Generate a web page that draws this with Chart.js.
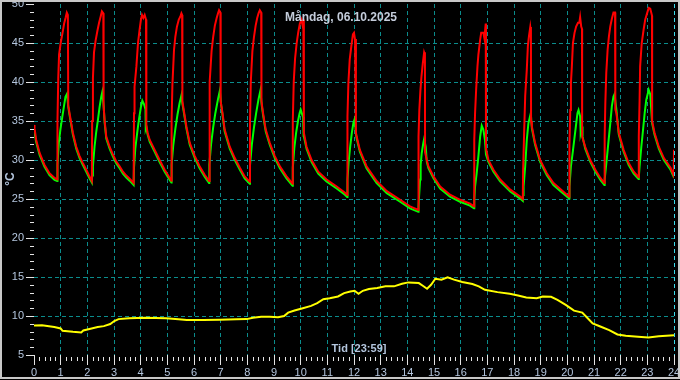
<!DOCTYPE html>
<html>
<head>
<meta charset="utf-8">
<script src="https://cdn.jsdelivr.net/npm/chart.js@4.4.1/dist/chart.umd.min.js"></script>
<style>
html,body{margin:0;padding:0;background:#000;}
canvas{display:block;}
</style>
</head>
<body>
<canvas id="c" width="680" height="380"></canvas>
<script>
// ---------- texts ----------
const titleText = "Måndag, 06.10.2025";
const xAxisText = "Tid [23:59]";
const yAxisText = "°C";

// ---------- axes ----------
const hourMin = 0, hourMax = 24;
const tempMin = 5, tempMax = 50;

// ---------- red series (hours / °C) ----------
const redHours = [
  0, 0.02, 0.08, 0.21, 0.39, 0.58, 0.77, 0.87,
  0.88, 0.91, 0.94, 1.0, 1.07, 1.13, 1.19, 1.23, 1.27, 1.285,
  1.333, 1.457, 1.585, 1.709, 1.833, 1.96, 2.08, 2.17,
  2.18, 2.21, 2.25, 2.31, 2.38, 2.44, 2.50, 2.546, 2.60, 2.61,
  2.65, 2.71, 2.835, 2.96, 3.086, 3.21, 3.335, 3.46, 3.586, 3.736,
  3.75, 3.77, 3.84, 3.90, 3.96, 4.01, 4.05, 4.10, 4.15, 4.20, 4.213,
  4.26, 4.337, 4.525, 4.71, 4.9, 5.09, 5.152,
  5.16, 5.19, 5.25, 5.30, 5.36, 5.43, 5.49, 5.528, 5.555, 5.565,
  5.614, 5.715, 5.84, 6.03, 6.21, 6.40, 6.564,
  6.575, 6.60, 6.66, 6.72, 6.78, 6.85, 6.90, 6.94, 6.99, 7.0,
  7.07, 7.15, 7.34, 7.53, 7.72, 7.90, 8.092,
  8.10, 8.13, 8.19, 8.25, 8.31, 8.37, 8.42, 8.468, 8.52, 8.53,
  8.59, 8.69, 8.84, 9.03, 9.22, 9.47, 9.696,
  9.705, 9.74, 9.79, 9.85, 9.91, 9.97, 10.03, 10.07, 10.10, 10.12,
  10.22, 10.41, 10.66, 10.97, 11.35, 11.66, 11.746,
  11.755, 11.79, 11.84, 11.90, 11.96, 12.0, 12.04, 12.07, 12.075,
  12.10, 12.22, 12.47, 12.85, 13.23, 13.73, 14.10, 14.41,
  14.42, 14.45, 14.49, 14.53, 14.58, 14.63, 14.66, 14.665,
  14.73, 14.79, 14.98, 15.23, 15.60, 15.98, 16.35, 16.50,
  16.51, 16.54, 16.58, 16.63, 16.665, 16.73, 16.77, 16.85, 16.89, 16.94, 16.95,
  17.04, 17.23, 17.48, 17.86, 18.23, 18.33,
  18.34, 18.38, 18.42, 18.48, 18.52, 18.56, 18.61, 18.635, 18.64,
  18.67, 18.79, 18.98, 19.23, 19.48, 19.80, 20.07,
  20.08, 20.11, 20.135, 20.17, 20.21, 20.27, 20.33, 20.40, 20.45, 20.48, 20.52, 20.55, 20.555,
  20.67, 20.86, 21.05, 21.24, 21.39,
  21.40, 21.425, 21.46, 21.51, 21.56, 21.61, 21.67, 21.73, 21.79, 21.80,
  21.84, 21.93, 22.11, 22.30, 22.49, 22.67,
  22.68, 22.71, 22.73, 22.79, 22.86, 22.92, 22.99, 23.05, 23.11, 23.175, 23.18,
  23.27, 23.43, 23.62, 23.87, 23.99, 24.0
];
const redTemps = [
  34.5, 34.1, 32.6, 30.9, 29.4, 28.3, 27.7, 27.5,
  35.0, 40.5, 43.5, 45.0, 46.3, 47.5, 48.3, 48.9, 48.6, 37.0,
  36.0, 33.5, 31.7, 30.5, 29.6, 28.75, 27.9, 27.3,
  35.0, 40.5, 43.8, 45.3, 46.6, 47.6, 48.4, 49.05, 48.8, 37.0,
  35.0, 33.0, 31.7, 30.7, 29.8, 29.2, 28.5, 28.0, 27.6, 27.05,
  36.0, 39.4, 42.0, 45.0, 46.7, 48.0, 48.6, 48.2, 48.6, 48.0, 34.5,
  33.5, 32.6, 31.3, 30.0, 28.75, 27.7, 27.35,
  35.0, 39.6, 44.1, 45.8, 47.1, 48.0, 48.4, 48.8, 48.6, 37.5,
  36.45, 34.3, 32.2, 30.5, 29.2, 28.1, 27.3,
  35.0, 40.0, 44.0, 45.8, 47.2, 48.2, 48.8, 49.2, 48.9, 37.5,
  36.0, 33.9, 31.7, 30.25, 29.0, 27.9, 27.2,
  35.0, 40.0, 44.0, 45.8, 47.2, 48.2, 48.8, 49.2, 48.9, 37.5,
  36.0, 33.9, 32.2, 30.5, 29.2, 27.9, 26.96,
  35.0, 40.0, 43.0, 45.0, 46.4, 47.5, 48.0, 47.3, 48.0, 33.5,
  31.7, 30.0, 28.5, 27.5, 26.6, 25.8, 25.5,
  35.6, 39.9, 42.9, 44.6, 46.1, 46.3, 45.4, 45.5, 33.5,
  33.0, 31.3, 29.2, 27.3, 26.0, 24.9, 24.05, 23.6,
  33.0, 36.4, 38.9, 40.7, 42.4, 43.8, 43.5, 31.0,
  30.0, 29.2, 27.9, 26.6, 25.55, 24.9, 24.4, 24.05,
  32.6, 36.0, 39.0, 42.0, 43.5, 45.4, 46.3, 46.3, 45.6, 47.5, 31.5,
  30.0, 28.75, 27.5, 26.2, 25.3, 25.0,
  28.4, 33.5, 38.2, 41.6, 44.6, 45.85, 47.05, 46.3, 35.0,
  34.3, 32.2, 30.0, 28.3, 27.05, 26.1, 25.3,
  32.0, 36.4, 39.9, 42.0, 45.0, 46.3, 47.1, 47.6, 47.6, 48.3, 47.1, 46.8, 33.0,
  31.7, 30.0, 28.75, 27.7, 27.05,
  33.0, 37.3, 41.15, 44.1, 45.85, 47.1, 48.1, 48.9, 48.9, 36.5,
  36.0, 33.5, 31.3, 29.6, 28.5, 27.8,
  33.0, 37.7, 42.0, 45.0, 46.7, 48.0, 48.8, 49.5, 49.4, 48.5, 35.0,
  33.5, 31.7, 30.25, 29.0, 28.0, 31.3
];

// ---------- green series ----------
const greenHours = [
  0, 0.08, 0.21, 0.39, 0.58, 0.77, 0.87,
  0.88, 0.93, 0.99, 1.06, 1.12, 1.18, 1.24, 1.285,
  1.333, 1.457, 1.585, 1.709, 1.833, 1.96, 2.08, 2.17,
  2.18, 2.21, 2.27, 2.33, 2.40, 2.46, 2.52, 2.56, 2.61,
  2.65, 2.71, 2.835, 2.96, 3.086, 3.21, 3.335, 3.46, 3.586, 3.736,
  3.75, 3.80, 3.87, 3.94, 4.01, 4.063, 4.12, 4.18, 4.19, 4.213,
  4.26, 4.337, 4.525, 4.71, 4.9, 5.09, 5.152,
  5.16, 5.22, 5.30, 5.38, 5.46, 5.53, 5.565,
  5.614, 5.715, 5.84, 6.03, 6.21, 6.40, 6.564,
  6.575, 6.64, 6.72, 6.80, 6.90, 6.97, 7.02,
  7.07, 7.15, 7.34, 7.53, 7.72, 7.90, 8.092,
  8.10, 8.17, 8.25, 8.33, 8.42, 8.49, 8.54,
  8.59, 8.69, 8.84, 9.03, 9.22, 9.47, 9.696,
  9.705, 9.76, 9.83, 9.90, 9.96, 10.0, 10.09, 10.10, 10.12,
  10.22, 10.41, 10.66, 10.97, 11.35, 11.66, 11.746,
  11.755, 11.80, 11.86, 11.92, 11.98, 12.03, 12.075,
  12.10, 12.22, 12.47, 12.85, 13.23, 13.73, 14.10, 14.41,
  14.42, 14.44, 14.48, 14.50, 14.54, 14.60, 14.63, 14.69,
  14.73, 14.79, 14.98, 15.23, 15.60, 15.98, 16.35, 16.50,
  16.51, 16.54, 16.60, 16.665, 16.73, 16.79, 16.85, 16.91, 16.95,
  17.04, 17.23, 17.48, 17.86, 18.23, 18.33,
  18.34, 18.36, 18.42, 18.48, 18.54, 18.63, 18.67,
  18.79, 18.98, 19.23, 19.48, 19.80, 20.07,
  20.08, 20.135, 20.20, 20.26, 20.32, 20.38, 20.42, 20.48, 20.50, 20.55, 20.57,
  20.67, 20.86, 21.05, 21.24, 21.39,
  21.40, 21.425, 21.49, 21.55, 21.61, 21.67, 21.73, 21.77, 21.84,
  21.93, 22.11, 22.30, 22.49, 22.67,
  22.68, 22.71, 22.775, 22.84, 22.90, 22.96, 23.05, 23.11, 23.18,
  23.27, 23.43, 23.62, 23.87, 24.0
];
const greenTemps = [
  33.9, 32.35, 30.65, 29.15, 28.05, 27.45, 27.3,
  29.4, 32.2, 33.9, 35.5, 36.8, 38.1, 38.5, 36.8,
  35.75, 33.25, 31.45, 30.25, 29.35, 28.5, 27.65, 27.1,
  28.0, 29.2, 31.7, 33.5, 35.2, 36.8, 38.1, 38.7, 37.0,
  34.75, 32.75, 31.45, 30.45, 29.55, 28.95, 28.25, 27.75, 27.35, 26.8,
  29.0, 31.5, 33.5, 35.3, 36.8, 37.6, 37.2, 36.5, 34.0, 34.25,
  33.25, 32.35, 31.05, 29.75, 28.5, 27.45, 27.1,
  29.4, 31.8, 34.0, 35.8, 37.3, 38.3, 37.2,
  36.2, 34.05, 31.95, 30.25, 28.95, 27.85, 27.05,
  29.4, 32.0, 34.2, 36.0, 37.8, 38.9, 37.0,
  35.75, 33.65, 31.45, 30.0, 28.75, 27.65, 26.95,
  29.3, 32.0, 34.2, 36.0, 37.8, 38.9, 37.0,
  35.75, 33.65, 31.95, 30.25, 28.95, 27.65, 26.7,
  29.0, 31.5, 33.5, 35.0, 36.0, 36.45, 35.5, 33.0, 33.2,
  31.45, 29.75, 28.25, 27.25, 26.35, 25.55, 25.25,
  27.5, 29.8, 31.8, 33.5, 34.8, 35.3, 33.3,
  32.75, 31.05, 28.95, 27.05, 25.75, 24.65, 23.8, 23.35,
  24.0, 25.3, 27.5, 29.4, 30.9, 32.2, 32.7, 31.7,
  29.75, 28.95, 27.65, 26.35, 25.3, 24.65, 24.15, 23.8,
  24.8, 26.6, 28.3, 30.5, 33.0, 34.4, 33.9, 32.6, 30.7,
  29.75, 28.5, 27.25, 25.95, 25.05, 24.75,
  25.5, 26.6, 29.2, 32.6, 34.7, 36.0, 34.05,
  31.95, 29.75, 28.05, 26.8, 25.85, 25.05,
  26.6, 29.2, 30.9, 32.6, 34.3, 36.0, 36.4, 35.6, 33.5, 34.3, 33.0,
  31.45, 29.75, 28.5, 27.45, 26.8,
  27.5, 28.3, 30.5, 32.6, 34.7, 36.9, 38.15, 38.45, 36.45,
  33.25, 31.05, 29.35, 28.25, 27.55,
  27.8, 29.2, 31.7, 33.9, 36.0, 37.7, 39.0, 38.4, 34.7,
  33.25, 31.45, 30.0, 28.75, 27.75
];

// ---------- yellow series (outdoor) ----------
const yellowHours = [
  0, 0.3, 0.76, 1.0, 1.07, 1.46, 1.77, 1.85, 2.16, 2.39,
  2.62, 2.86, 3.01, 3.17, 3.56, 4.18, 4.95, 5.42, 5.73, 6.35,
  6.97, 7.59, 7.98, 8.21, 8.52, 8.84, 9.15, 9.38, 9.53, 9.77,
  10.08, 10.39, 10.62, 10.85, 11.09, 11.4, 11.63, 11.86, 12.02, 12.17,
  12.33, 12.56, 12.87, 13.18, 13.5, 13.8, 14.04, 14.43, 14.58, 14.74,
  14.89, 15.05, 15.28, 15.51, 15.75, 16.06, 16.44, 16.68, 16.91, 17.38,
  17.84, 18.15, 18.46, 18.85, 19.08, 19.39, 19.63, 19.94, 20.25, 20.56,
  20.71, 20.95, 21.26, 21.57, 21.88, 22.19, 22.65, 23.04, 23.43, 24
];
const yellowTemps = [
  8.79, 8.8, 8.58, 8.4, 8.1, 7.97, 7.9, 8.15, 8.4, 8.58,
  8.7, 8.97, 9.35, 9.6, 9.7, 9.78, 9.7, 9.57, 9.48, 9.48,
  9.53, 9.57, 9.6, 9.78, 9.9, 9.9, 9.83, 10.0, 10.43, 10.7,
  10.99, 11.3, 11.64, 12.16, 12.28, 12.5, 12.93, 13.15, 13.23, 12.84,
  13.23, 13.45, 13.58, 13.8, 13.8, 14.14, 14.31, 14.22, 13.88, 13.49,
  14.0, 14.78, 14.66, 14.96, 14.66, 14.35, 14.1, 13.8, 13.36, 13.06,
  12.84, 12.63, 12.37, 12.28, 12.5, 12.46, 12.07, 11.42, 10.69, 10.43,
  9.91, 9.05, 8.62, 8.19, 7.63, 7.46, 7.33, 7.24, 7.41, 7.54
];

// ---------- build ----------
function toPoints(hours, temps) {
  const n = Math.min(hours.length, temps.length);
  const out = [];
  for (let i = 0; i < n; i++) out.push({x: hours[i], y: temps[i]});
  return out;
}

const FONT = '"Liberation Sans", Arial, sans-serif';
const LABEL_COLOR = '#b4c6de';
const GRID_COLOR = '#0b8c8c';
const TICK_COLOR = '#e4e4e4';

const decor = {
  id: 'decor',
  beforeDraw(chart) {
    const ctx = chart.ctx;
    ctx.save();
    ctx.fillStyle = '#000';
    ctx.fillRect(0, 0, chart.width, chart.height);
    ctx.restore();
  },
  afterDraw(chart) {
    const {ctx, chartArea: a, scales} = chart;
    const xs = scales.x, ys = scales.y;
    ctx.save();
    // minor ticks
    ctx.strokeStyle = TICK_COLOR;
    ctx.lineWidth = 1;
    ctx.beginPath();
    for (let v = tempMin; v <= tempMax; v++) {
      if (v % 5 === 0) continue;
      const py = Math.round(ys.getPixelForValue(v)) + 0.5;
      ctx.moveTo(a.left - 4, py); ctx.lineTo(a.left, py);
    }
    for (let i = 0; i <= hourMax * 5; i++) {
      if (i % 5 === 0) continue;
      const px = Math.round(xs.getPixelForValue(i / 5)) + 0.5;
      ctx.moveTo(px, a.bottom + 2); ctx.lineTo(px, a.bottom + 6);
    }
    ctx.stroke();

    // title
    ctx.fillStyle = '#c4ccda';
    ctx.textAlign = 'center';
    ctx.textBaseline = 'middle';
    ctx.font = 'bold 12px ' + FONT;
    ctx.fillText(titleText, 341, 18);

    // x axis text inside plot
    ctx.fillStyle = LABEL_COLOR;
    ctx.font = 'bold 11px ' + FONT;
    ctx.fillText(xAxisText, (a.left + a.right) / 2 + 5, a.bottom - 6);

    // y axis unit
    ctx.save();
    ctx.translate(11, 179);
    ctx.rotate(-Math.PI / 2);
    ctx.font = 'bold 12px ' + FONT;
    ctx.fillText(yAxisText, 0, 0);
    ctx.restore();

    // frame
    ctx.strokeStyle = '#c8c8c8';
    ctx.lineWidth = 2;
    ctx.strokeRect(1, 1, chart.width - 2, chart.height - 3);
    ctx.restore();
  }
};

new Chart(document.getElementById('c'), {
  type: 'line',
  data: {
    datasets: [
      {data: toPoints(redHours, redTemps), borderColor: '#ff0000', borderWidth: 2, order: 0},
      {data: toPoints(greenHours, greenTemps), borderColor: '#00ff00', borderWidth: 2, order: 1},
      {data: toPoints(yellowHours, yellowTemps), borderColor: '#ffff00', borderWidth: 2, order: 2}
    ]
  },
  options: {
    responsive: false,
    animation: false,
    parsing: false,
    normalized: true,
    layout: {padding: {top: 4, right: 6, left: 0, bottom: 0}},
    elements: {
      point: {radius: 0, hoverRadius: 0},
      line: {tension: 0, borderJoinStyle: 'miter', fill: false}
    },
    plugins: {legend: {display: false}, tooltip: {enabled: false}, title: {display: false}},
    events: [],
    scales: {
      x: {
        type: 'linear',
        min: hourMin, max: hourMax,
        afterFit(s) { s.height = 25; s.paddingLeft = 0; s.paddingRight = 0; s.paddingTop = 0; s.paddingBottom = 0; },
        ticks: {
          stepSize: 1, autoSkip: false, maxRotation: 0, padding: 1,
          color: LABEL_COLOR, font: {family: FONT, size: 11},
          callback: v => String(v)
        },
        border: {display: false, dash: [4, 3]},
        grid: {
          drawTicks: true, tickLength: 10, tickColor: TICK_COLOR, lineWidth: 1,
          color: c => {
            const v = c.tick ? c.tick.value : null;
            if (v === hourMax) return '#3cdcec';
            if (v > hourMin && v < hourMax) return GRID_COLOR;
            return 'rgba(0,0,0,0)';
          }
        }
      },
      y: {
        type: 'linear',
        min: tempMin, max: tempMax,
        afterFit(s) { s.width = 34; s.paddingTop = 0; s.paddingBottom = 0; s.paddingLeft = 0; s.paddingRight = 0; },
        ticks: {
          stepSize: 5, autoSkip: false, padding: 2,
          color: LABEL_COLOR, font: {family: FONT, size: 11},
          callback: v => String(v)
        },
        border: {display: false, dash: [4, 3]},
        grid: {
          drawTicks: true, tickLength: 8, tickColor: TICK_COLOR, lineWidth: 1,
          color: c => {
            const v = c.tick ? c.tick.value : null;
            if (v > tempMin && v < tempMax) return GRID_COLOR;
            return 'rgba(0,0,0,0)';
          }
        }
      }
    }
  },
  plugins: [decor]
});
</script>
</body>
</html>
